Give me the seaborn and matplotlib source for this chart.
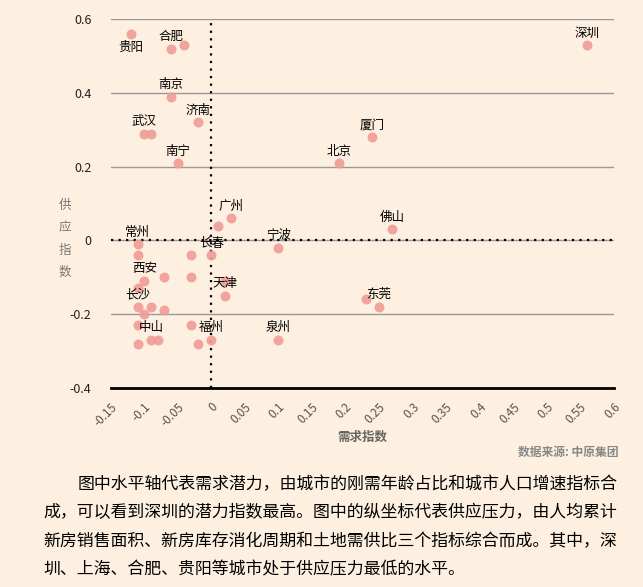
import matplotlib
matplotlib.use("Agg")
import matplotlib.pyplot as plt
import seaborn as sns
import pandas as pd

# city points: demand index (x) vs supply index (y); '' = unlabeled point
cities = ['贵阳', '合肥', '', '南京', '济南', '武汉', '', '南宁',
          '深圳', '厦门', '北京', '广州', '', '佛山',
          '常州', '', '', '长春', '宁波', '', '', '西安', '', '', '天津',
          '长沙', '', '', '', '东莞', '',
          '中山', '', '', '', '', '', '福州', '泉州']
demand = [-0.12, -0.06, -0.04, -0.06, -0.02, -0.10, -0.09, -0.05,
          0.56, 0.24, 0.19, 0.03, 0.01, 0.27,
          -0.11, -0.11, -0.03, 0.0, 0.10, -0.03, -0.07, -0.10, -0.11, 0.02, 0.02,
          -0.11, -0.09, -0.10, -0.07, 0.25, 0.23,
          -0.09, -0.08, -0.11, -0.11, -0.03, -0.02, 0.0, 0.10]
supply = [0.56, 0.52, 0.53, 0.39, 0.32, 0.29, 0.29, 0.21,
          0.53, 0.28, 0.21, 0.06, 0.04, 0.03,
          -0.01, -0.04, -0.04, -0.04, -0.02, -0.10, -0.10, -0.11, -0.13, -0.11, -0.15,
          -0.18, -0.18, -0.20, -0.19, -0.18, -0.16,
          -0.27, -0.27, -0.23, -0.28, -0.23, -0.28, -0.27, -0.27]
labels_below = ['贵阳']

x_ticks = [-0.15, -0.1, -0.05, 0, 0.05, 0.1, 0.15, 0.2, 0.25, 0.3, 0.35,
           0.4, 0.45, 0.5, 0.55, 0.6]
y_ticks = [-0.4, -0.2, 0, 0.2, 0.4, 0.6]

paragraph = [
    '图中水平轴代表需求潜力，由城市的刚需年龄占比和城市人口增速指标合',
    '成，可以看到深圳的潜力指数最高。图中的纵坐标代表供应压力，由人均累计',
    '新房销售面积、新房库存消化周期和土地需供比三个指标综合而成。其中，深',
    '圳、上海、合肥、贵阳等城市处于供应压力最低的水平。',
]

bg = '#FDF0E0'
sns.set_style("white", rc={"axes.facecolor": bg, "figure.facecolor": bg})
plt.rcParams['font.family'] = ['Noto Sans CJK SC', 'DejaVu Sans']

df = pd.DataFrame({'city': cities, 'demand': demand, 'supply': supply})

fig = plt.figure(figsize=(6.43, 5.87), dpi=100)
ax = fig.add_axes([0.1722, 0.3394, 0.7822, 0.6277])

sns.scatterplot(data=df, x='demand', y='supply', ax=ax, color='#F09C97',
                s=52, linewidth=0, alpha=0.9, zorder=3)

for _, r in df[df.city != ''].iterrows():
    dy = -13 if r.city in labels_below else 12
    ax.annotate(r.city, (r.demand, r.supply), xytext=(0, dy),
                textcoords='offset pixels', ha='center', va='center',
                fontsize=9, color='black', zorder=5)

ax.set_xlim(-0.15, 0.6)
ax.set_ylim(-0.4, 0.6)
ax.set_xticks(x_ticks)
ax.set_xticklabels([f'{t:g}' for t in x_ticks], rotation=45, ha='right',
                   rotation_mode='anchor', fontsize=8.5, color='#555555')
ax.set_yticks(y_ticks)
ax.set_yticklabels([f'{t:g}' for t in y_ticks], fontsize=9, color='#222222')
ax.tick_params(axis='x', direction='out', length=5, width=1.2, color='black', pad=4)
ax.tick_params(axis='y', length=0, pad=14)

ax.yaxis.grid(True, color='#999999', linewidth=1)
ax.set_axisbelow(True)
for side in ['left', 'right', 'top']:
    ax.spines[side].set_visible(False)
ax.spines['bottom'].set_color('black')
ax.spines['bottom'].set_linewidth(2)

ax.axvline(0, color='black', linestyle=(0, (1, 2.4)), linewidth=1.6, zorder=2)
ax.axhline(0, color='black', linestyle=(0, (1, 2.4)), linewidth=1.6, zorder=2)

ax.set_xlabel('')
ax.set_ylabel('')
fig.text(362 / 643, 1 - 437 / 587, '需求指数', ha='center', va='center',
         fontsize=9, color='#666666', fontweight='bold')
for i, ch in enumerate('供应指数'):
    fig.text(65 / 643, 1 - (205 + i * 22.5) / 587, ch, ha='center', va='center',
             fontsize=9, color='#777777')
fig.text(618 / 643, 1 - 452 / 587, '数据来源: 中原集团', ha='right', va='center',
         fontsize=8.5, color='#888888', fontweight='bold')

line_y = [484, 512.5, 541, 569.5]
line_x = [77.7, 43.3, 43.3, 43.3]
for txt, lx, ly in zip(paragraph, line_x, line_y):
    fig.text(lx / 643, 1 - ly / 587, txt, ha='left', va='center',
             fontsize=12.2, color='black')

fig.savefig('out.png', dpi=100, facecolor=bg)
